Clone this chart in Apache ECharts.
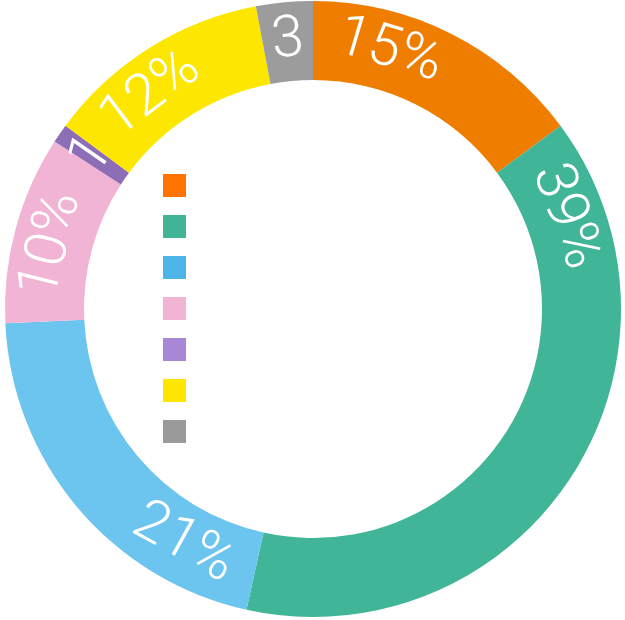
<!DOCTYPE html>
<html>
<head>
<meta charset="utf-8">
<script src="https://cdn.jsdelivr.net/npm/echarts@6/dist/echarts.min.js"></script>
<style>
  html, body { margin: 0; background: #fff; }
  #chart { width: 625px; height: 620px; }
</style>
</head>
<body>
<div id="chart"></div>
<script>
// data
const names = ['Category 1', 'Category 2', 'Category 3', 'Category 4', 'Category 5', 'Category 6', 'Category 7'];
const values = [15, 39, 21, 10, 1, 12, 3];
const labels = ['15%', '39%', '21%', '10%', '1', '12%', '3'];
const sliceColors = ['#ef7d00', '#41b597', '#6cc5ef', '#f2b4d4', '#8c6db6', '#fde700', '#9c9c9c'];
const legendColors = ['#ff7300', '#41b496', '#4db4e7', '#f2b4d4', '#a888d6', '#ffe600', '#9a9a9a'];

// ring geometry
const CX = 313, CY = 309, R_IN = 229, R_OUT = 308;
const R_MID = (R_IN + R_OUT) / 2;
const FONT_SIZE = 58;
const FONT_FAMILY = 'Roboto, "Liberation Sans", sans-serif';

const ctx = document.createElement('canvas').getContext('2d');
ctx.font = '300 ' + FONT_SIZE + 'px ' + FONT_FAMILY;

const total = values.reduce((a, b) => a + b, 0);
const starts = [];
let acc = 0;
values.forEach(v => { starts.push(acc / total * 360); acc += v; });

// labels sit near the start of each slice (text starts a little after the edge)
function labelAngle(i) {
  const span = values[i] / total * 360;
  const half = ctx.measureText(labels[i]).width / 2 / R_MID * 180 / Math.PI;
  return starts[i] + Math.min(span / 2, 5 + half);
}

const chart = echarts.init(document.getElementById('chart'));
chart.setOption({
  animation: false,
  legend: {
    orient: 'vertical',
    left: 163,
    top: 174,
    padding: 0,
    itemWidth: 23,
    itemHeight: 23,
    itemGap: 18,
    icon: 'rect',
    selectedMode: false,
    formatter: () => '',
    data: names.map((n, i) => ({ name: n, itemStyle: { color: legendColors[i] } }))
  },
  series: [
    {
      type: 'pie',
      center: [CX, CY],
      radius: [R_IN, R_OUT],
      startAngle: 90,
      clockwise: true,
      avoidLabelOverlap: false,
      label: {
        show: true,
        position: 'inside',
        color: '#fff',
        fontSize: FONT_SIZE,
        fontWeight: 300,
        fontFamily: FONT_FAMILY,
        formatter: p => labels[p.dataIndex]
      },
      labelLine: { show: false },
      labelLayout: function (p) {
        const a = labelAngle(p.dataIndex);
        const rad = a * Math.PI / 180;
        let rot = a;
        if (a > 90 && a < 270) rot = a - 180;
        else if (a >= 270) rot = a - 360;
        return {
          x: CX + R_MID * Math.sin(rad),
          y: CY - R_MID * Math.cos(rad),
          rotate: -rot,
          align: 'center',
          verticalAlign: 'middle'
        };
      },
      emphasis: { disabled: true },
      data: names.map((n, i) => ({ name: n, value: values[i], itemStyle: { color: sliceColors[i] } }))
    }
  ]
});
</script>
</body>
</html>
